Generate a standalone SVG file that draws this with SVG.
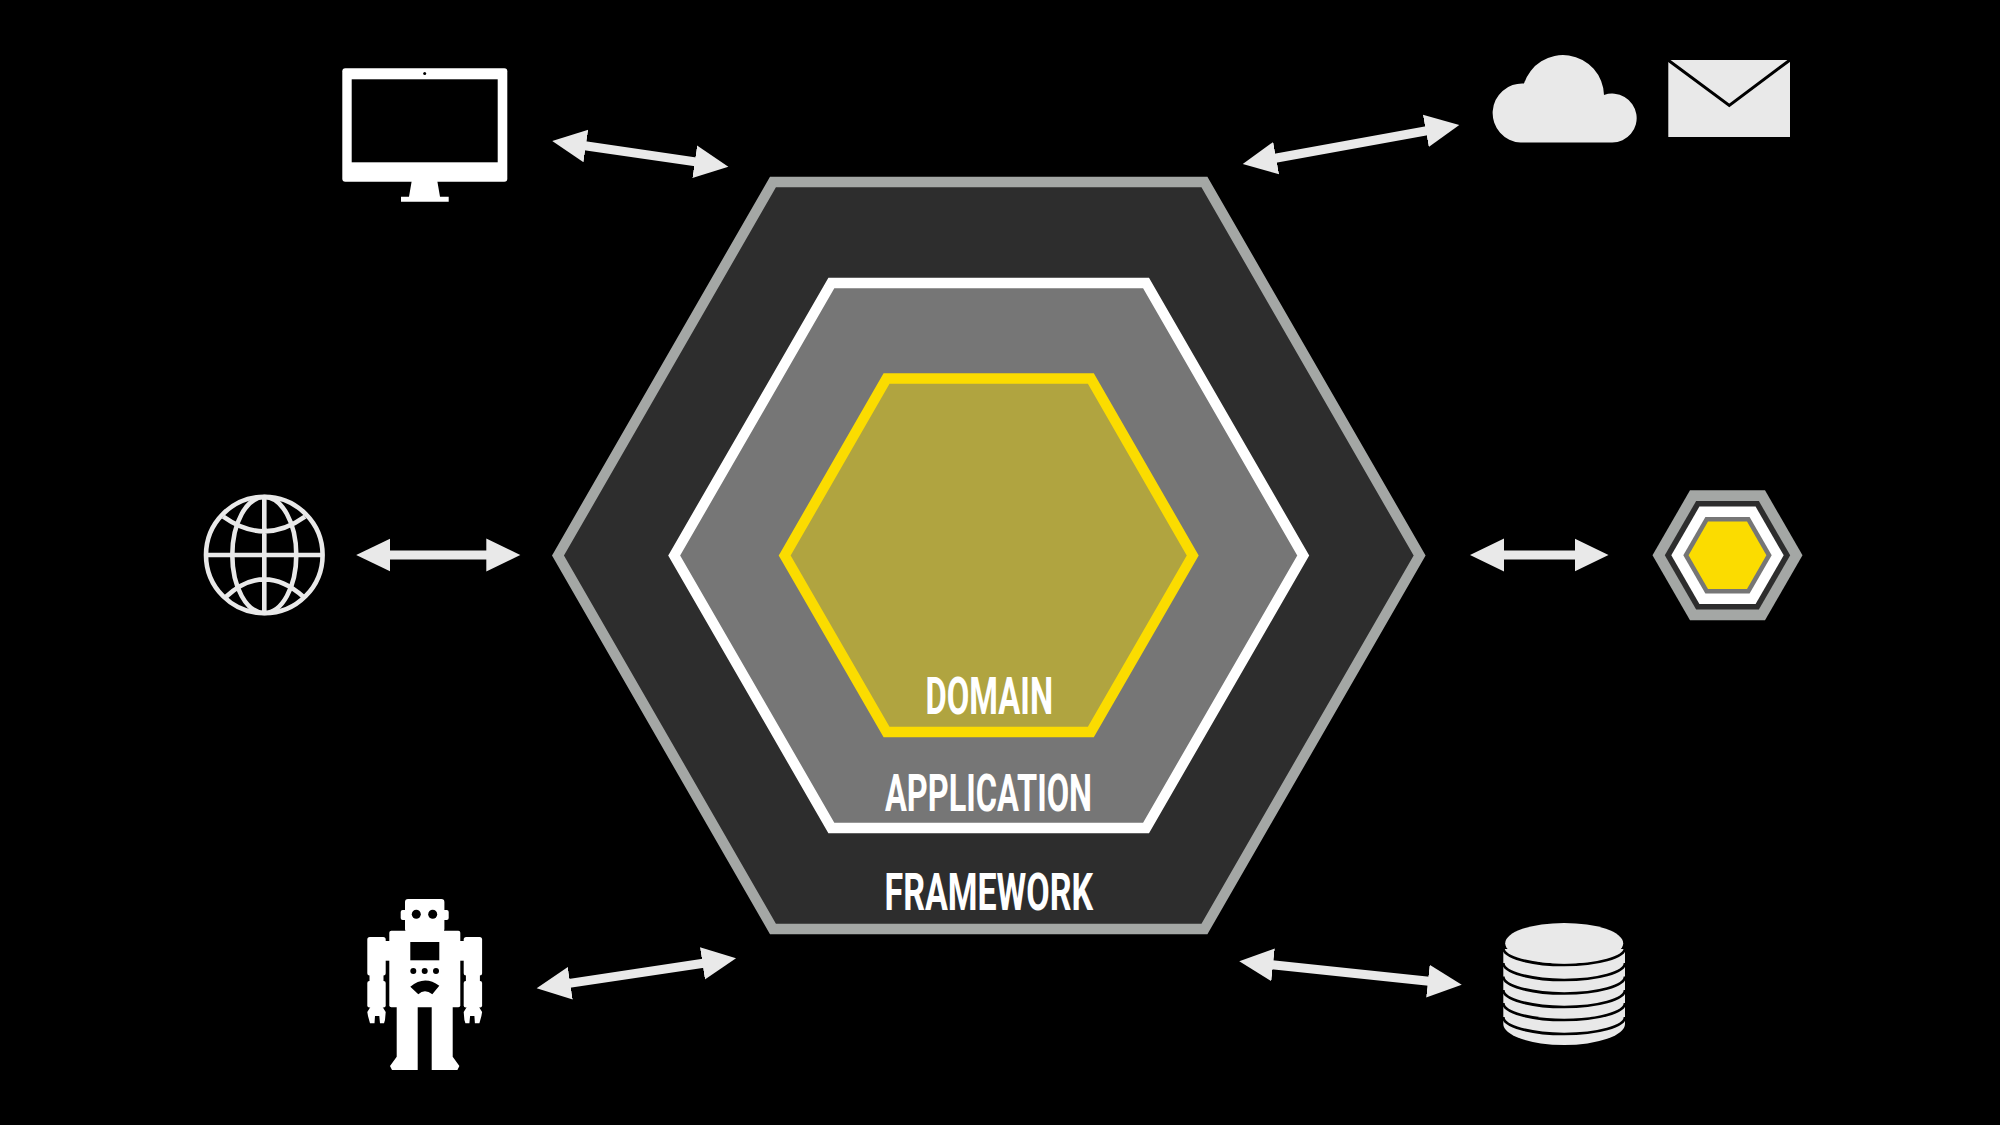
<svg xmlns="http://www.w3.org/2000/svg" xmlns:xlink="http://www.w3.org/1999/xlink" width="2000" height="1125" viewBox="0 0 2000 1125">
<style>
.lbl{font-family:Roboto,"Liberation Sans",sans-serif;font-size:52px;font-weight:700;fill:#fff}
.wh{fill:#fff}
.lg{fill:#e9e9e9}
.arrow{stroke:#e9e9e9;stroke-width:9;fill:none;marker-start:url(#head);marker-end:url(#head)}
.dbl{stroke:#000;stroke-width:2.7;fill:none}
</style>
<defs>
<marker id="head" markerUnits="userSpaceOnUse" markerWidth="40" markerHeight="40" refX="1" refY="20" orient="auto-start-reverse" viewBox="0 0 40 40"><path d="M0,3.6L34,20L0,36.4Z" fill="#e9e9e9"/></marker>
</defs>
<rect width="2000" height="1125" fill="#000"/>
<g id="hexagon-framework">
<polygon points="558,555.5 773,182 1204.4,182 1419.6,555.5 1204.4,929 773,929" fill="#2d2d2d" stroke="#a4a7a5" stroke-width="10.4"/>
<text class="lbl" x="884.5" y="910" textLength="208.5" lengthAdjust="spacingAndGlyphs">FRAMEWORK</text>
</g>
<g id="hexagon-application">
<polygon points="674.2,555.5 831.4,283 1146,283 1303.2,555.5 1146,828 831.4,828" fill="#767676" stroke="#fff" stroke-width="10.4"/>
<text class="lbl" x="885" y="811" textLength="207" lengthAdjust="spacingAndGlyphs">APPLICATION</text>
</g>
<g id="hexagon-domain">
<polygon points="784.7,555.5 886.6,378.5 1090.8,378.5 1192.7,555.5 1090.8,732 886.6,732" fill="#b0a440" stroke="#fbdc00" stroke-width="10.4"/>
<text class="lbl" x="925.5" y="714" textLength="127.5" lengthAdjust="spacingAndGlyphs">DOMAIN</text>
</g>
<g id="connectors">
<line class="arrow" x1="584.9" y1="145.8" x2="695.7" y2="161.9"/>
<line class="arrow" x1="1275.2" y1="158.2" x2="1426.8" y2="130.8"/>
<line class="arrow" x1="389.2" y1="555" x2="487.3" y2="555"/>
<line class="arrow" x1="1503" y1="555" x2="1575.5" y2="555"/>
<line class="arrow" x1="569.3" y1="983.4" x2="703.4" y2="963.2"/>
<line class="arrow" x1="1272.1" y1="964.8" x2="1428.9" y2="981.2"/>
</g>
<g id="monitor">
<rect class="wh" x="342.3" y="68.3" width="165" height="113.4" rx="3"/>
<rect x="351.7" y="79.3" width="146" height="83" fill="#000"/>
<circle cx="424.7" cy="73.5" r="1.5" fill="#000"/>
<polygon class="wh" points="411.7,181 437.3,181 440,196.7 448.7,196.7 448.7,201.7 401,201.7 401,196.7 409,196.7"/>
</g>
<g id="cloud">
<path class="lg" d="M1520.5 142.6A29.5 29.5 0 1 1 1524 83.5A41 41 0 0 1 1604 95A24.5 24.5 0 1 1 1612.2 142.6Z"/>
</g>
<g id="mail">
<rect class="lg" x="1668.3" y="60" width="121.7" height="77"/>
<path d="M1668 60L1729.3 105.5L1790 60" fill="none" stroke="#000" stroke-width="3"/>
</g>
<g id="globe" fill="none" stroke="#e9e9e9" stroke-width="4.6">
<circle cx="264.3" cy="555" r="58.3"/>
<ellipse cx="264.3" cy="555" rx="32" ry="58"/>
<path d="M264.3 497V613M206 555H323M223.3 516.7Q264.3 546 305 516.7M226 596.7Q264.3 562 303.3 596.7"/>
</g>
<g id="mini-hexagon">
<polygon points="1652.5,555.3 1690,490.3 1765,490.3 1802.5,555.3 1765,620.3 1690,620.3" fill="#a4a7a5"/>
<polygon points="1664.8,555.3 1696.15,501 1758.85,501 1790.2,555.3 1758.85,609.6 1696.15,609.6" fill="#2d2d2d"/>
<polygon points="1671.3,555.3 1699.4,506.6 1755.6,506.6 1783.7,555.3 1755.6,604 1699.4,604" fill="#fff"/>
<polygon points="1683.3,555.3 1705.4,517 1749.6,517 1771.7,555.3 1749.6,593.6 1705.4,593.6" fill="#767676"/>
<polygon points="1688.6,555.3 1708,521.6 1747,521.6 1766.4,555.3 1747,589 1708,589" fill="#fbdc00"/>
</g>
<g id="robot">
<g class="wh">
<rect x="405" y="899" width="39.4" height="33" rx="3"/>
<rect x="400.7" y="910" width="48" height="10" rx="2"/>
<rect x="389.3" y="930.7" width="71" height="76.6" rx="2"/>
<g id="robot-side">
<rect x="367.3" y="937" width="18.4" height="38.5" rx="2.5"/>
<rect x="385" y="941" width="5" height="19.7"/>
<rect x="369.5" y="975" width="14" height="8"/>
<rect x="367.3" y="981" width="18.4" height="26.5" rx="2"/>
<polygon points="371,1006 382,1006 385.7,1012 385,1020 384,1023.3 380,1023.3 379.3,1016 375,1016 374.5,1023.3 370,1023.3 368,1016 367.3,1012"/>
<polygon points="396.7,1006 417.7,1006 417.7,1070 392,1070 390,1066 396.7,1056.7"/>
</g>
<use xlink:href="#robot-side" href="#robot-side" transform="translate(849.4 0) scale(-1 1)"/>
</g>
<g fill="#000">
<circle cx="416.3" cy="914.3" r="4.5"/>
<circle cx="432.7" cy="914.3" r="4.5"/>
<rect x="410.3" y="942" width="29" height="18.3"/>
<circle cx="413.3" cy="971" r="3"/>
<circle cx="424.7" cy="971" r="3"/>
<circle cx="436" cy="971" r="3"/>
<path d="M410.3 986.7Q424.5 975 439.3 985.7L432.3 994.3Q424.7 988 418.3 994.3Z"/>
</g>
</g>
<g id="database">
<path class="lg" d="M1503.3 949V1024A60.85 21 0 0 0 1625 1024V949Z"/>
<path class="dbl" d="M1503.3 948A60.85 17 0 0 0 1625 948M1503.3 963A60.85 17 0 0 0 1625 963M1503.3 976.5A60.85 17 0 0 0 1625 976.5M1503.3 990A60.85 17 0 0 0 1625 990M1503.3 1003A60.85 17 0 0 0 1625 1003M1503.3 1017A60.85 17 0 0 0 1625 1017"/>
<ellipse class="lg" cx="1564.2" cy="943.2" rx="59" ry="20.3"/>
</g>
</svg>
